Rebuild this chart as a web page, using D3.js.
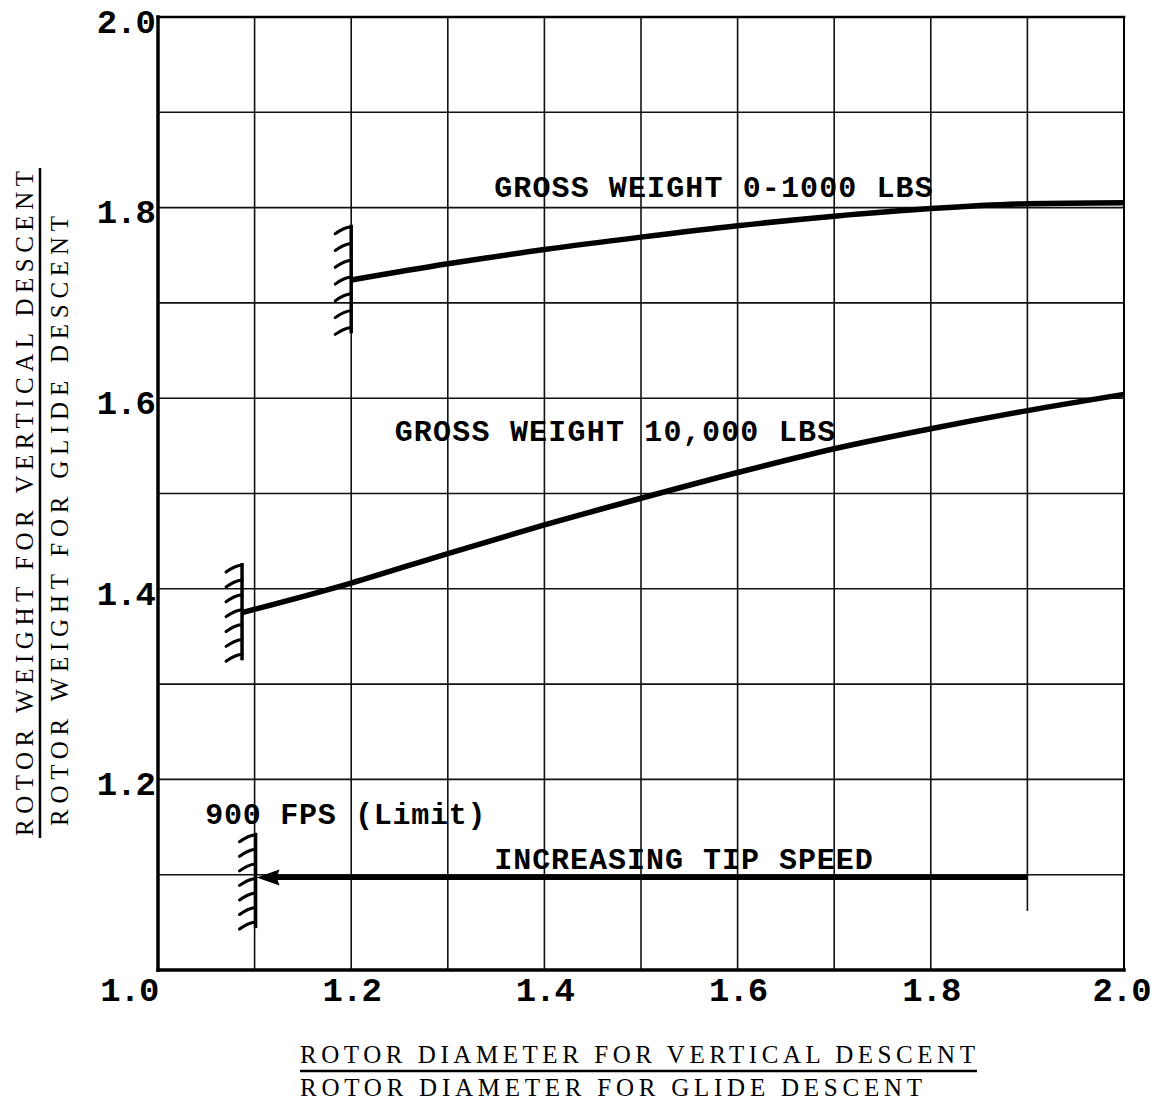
<!DOCTYPE html>
<html>
<head>
<meta charset="utf-8">
<script src="https://cdn.jsdelivr.net/npm/d3@7"></script>
<style>
  html, body { margin: 0; padding: 0; background: #fff; }
  svg { display: block; }
  .mono { font-family: "Liberation Mono", "DejaVu Sans Mono", monospace; }
  .type { font-family: "Liberation Serif", "DejaVu Serif", serif; }
</style>
</head>
<body>
<svg id="chart" width="1156" height="1103"></svg>
<script>
// Diameter ratio (vertical / glide descent) on x, weight ratio on y
const xTickValues = [1.0, 1.2, 1.4, 1.6, 1.8, 2.0];
const yTickValues = [1.2, 1.4, 1.6, 1.8, 2.0];
const gridStep = 0.1;

// Gross weight 0-1000 lbs
const lightX = [1.2, 1.3, 1.4, 1.5, 1.6, 1.7, 1.8, 1.9, 2.0];
const lightY = [1.724, 1.741, 1.756, 1.769, 1.781, 1.791, 1.799, 1.804, 1.805];

// Gross weight 10,000 lbs
const heavyX = [1.087, 1.2, 1.3, 1.4, 1.5, 1.6, 1.7, 1.8, 1.9, 2.0];
const heavyY = [1.375, 1.406, 1.437, 1.467, 1.495, 1.522, 1.547, 1.568, 1.587, 1.604];

// Limit walls: x, top, bottom
const limitX = [1.2, 1.087, 1.101];
const limitTop = [1.782, 1.427, 1.144];
const limitBottom = [1.668, 1.325, 1.044];

// Tip-speed arrow (points toward the 900 fps limit)
const arrowFrom = [1.9, 1.097];
const arrowTo = [1.101, 1.097];

// Annotations: text, anchor x, baseline y, span end x (data units)
const noteText = ["GROSS WEIGHT 0-1000 LBS", "GROSS WEIGHT 10,000 LBS", "900 FPS (Limit)", "INCREASING TIP SPEED"];
const noteX = [1.348, 1.245, 1.049, 1.348];
const noteY = [1.811, 1.555, 1.153, 1.106];
const noteEnd = [1.802, 1.701, 1.339, 1.74];

const xTitle = ["ROTOR DIAMETER FOR VERTICAL DESCENT", "ROTOR DIAMETER FOR GLIDE DESCENT"];
const yTitle = ["ROTOR WEIGHT FOR VERTICAL DESCENT", "ROTOR WEIGHT FOR GLIDE DESCENT"];

const svg = d3.select("#chart");
const x = d3.scaleLinear().domain([1, 2]).range([158, 1124]);
const y = d3.scaleLinear().domain([1, 2]).range([970, 17]);

// Grid
const gridVals = d3.range(1.1, 1.95, gridStep).map(v => +v.toFixed(1));
const grid = svg.append("g").attr("stroke", "#111").attr("stroke-width", 1.6);
grid.selectAll("line.v").data(gridVals).join("line")
  .attr("x1", d => x(d)).attr("x2", d => x(d))
  .attr("y1", y(2)).attr("y2", d => d === 1.9 ? y(1.062) : y(1));
grid.selectAll("line.h").data(gridVals).join("line")
  .attr("x1", x(1)).attr("x2", x(2))
  .attr("y1", d => y(d)).attr("y2", d => y(d));

// Frame
const frame = svg.append("g").attr("stroke", "#000").attr("stroke-linecap", "square");
frame.append("line").attr("x1", x(1)).attr("x2", x(1)).attr("y1", y(2)).attr("y2", y(1)).attr("stroke-width", 3.5);
frame.append("line").attr("x1", x(1)).attr("x2", x(2)).attr("y1", y(1)).attr("y2", y(1)).attr("stroke-width", 3.5);
frame.append("line").attr("x1", x(1)).attr("x2", x(2)).attr("y1", y(2)).attr("y2", y(2)).attr("stroke-width", 2.6);
frame.append("line").attr("x1", x(2)).attr("x2", x(2)).attr("y1", y(2)).attr("y2", y(1)).attr("stroke-width", 2);

// Axes tick labels
const xAxis = d3.axisBottom(x).tickValues(xTickValues).tickSize(0).tickPadding(0).tickFormat(d3.format(".1f"));
const gx = svg.append("g").attr("transform", `translate(0,${y(1)})`).call(xAxis);
gx.select(".domain").remove();
gx.selectAll("text")
  .attr("class", "mono")
  .attr("font-size", 34).attr("font-weight", "bold").attr("fill", "#000")
  .attr("letter-spacing", -1)
  .attr("dy", 31)
  .attr("text-anchor", d => d === 1.0 ? "end" : "middle")
  .attr("dx", d => d === 1.0 ? 0 : d === 2.0 ? -3 : 0);

const yAxis = d3.axisLeft(y).tickValues(yTickValues).tickSize(0).tickPadding(3).tickFormat(d3.format(".1f"));
const gy = svg.append("g").attr("transform", `translate(${x(1)},0)`).call(yAxis);
gy.select(".domain").remove();
gy.selectAll("text")
  .attr("class", "mono")
  .attr("font-size", 34).attr("font-weight", "bold").attr("fill", "#000")
  .attr("letter-spacing", -1)
  .attr("dy", "0.45em");

// Curves
const line = d3.line().x(d => x(d[0])).y(d => y(d[1])).curve(d3.curveMonotoneX);
[[lightX, lightY], [heavyX, heavyY]].forEach(([xs, ys]) => {
  svg.append("path")
    .datum(xs.map((v, i) => [v, ys[i]]))
    .attr("d", line)
    .attr("fill", "none").attr("stroke", "#000").attr("stroke-width", 5.5)
    .attr("stroke-linecap", "butt");
});

// Limit walls with hatching on the left side
limitX.forEach((lx, i) => {
  const g = svg.append("g").attr("stroke", "#000").attr("fill", "none");
  const px = x(lx), top = y(limitTop[i]), bot = y(limitBottom[i]);
  g.append("line").attr("x1", px).attr("x2", px).attr("y1", top).attr("y2", bot).attr("stroke-width", 3.5);
  const n = 7;
  const step = (bot - top - 8) / (n - 1);
  d3.range(n).forEach(k => {
    const ty = top + 2 + k * step;
    g.append("path")
      .attr("d", `M${px},${ty} Q${px - 8},${ty + 1} ${px - 16},${ty + 7}`)
      .attr("stroke-width", 3).attr("stroke-linecap", "round");
  });
});

// Arrow
const ax1 = x(arrowFrom[0]), ay = y(arrowFrom[1]), ax2 = x(arrowTo[0]);
svg.append("line").attr("x1", ax1).attr("x2", ax2 + 20).attr("y1", ay).attr("y2", ay)
  .attr("stroke", "#000").attr("stroke-width", 5);
svg.append("path")
  .attr("d", `M${ax2 + 1},${ay} L${ax2 + 24},${ay - 8} L${ax2 + 21},${ay} L${ax2 + 24},${ay + 8} Z`)
  .attr("fill", "#000");

// Annotations in typewriter pitch
noteText.forEach((t, i) => {
  svg.append("text").attr("class", "mono")
    .attr("x", x(noteX[i])).attr("y", y(noteY[i]))
    .attr("font-size", 30).attr("font-weight", "bold")
    .attr("textLength", x(noteEnd[i]) - x(noteX[i])).attr("lengthAdjust", "spacing")
    .attr("fill", "#000").text(t);
});

// X axis title (fraction)
const xt = svg.append("g").attr("class", "type").attr("font-size", 25).attr("fill", "#000");
xt.append("text").attr("x", 300).attr("y", 1063).attr("textLength", 675).attr("lengthAdjust", "spacing").text(xTitle[0]);
xt.append("line").attr("x1", 300).attr("x2", 977).attr("y1", 1071).attr("y2", 1071)
  .attr("stroke", "#000").attr("stroke-width", 2.5);
xt.append("text").attr("x", 300).attr("y", 1096).attr("textLength", 622).attr("lengthAdjust", "spacing").text(xTitle[1]);

// Y axis title (fraction, rotated)
const yt = svg.append("g").attr("class", "type").attr("font-size", 25).attr("fill", "#000");
yt.append("text").attr("transform", "translate(33,836) rotate(-90)")
  .attr("textLength", 665).attr("lengthAdjust", "spacing").text(yTitle[0]);
yt.append("line").attr("x1", 40).attr("x2", 40).attr("y1", 168).attr("y2", 838)
  .attr("stroke", "#000").attr("stroke-width", 2.5);
yt.append("text").attr("transform", "translate(68,826) rotate(-90)")
  .attr("textLength", 610).attr("lengthAdjust", "spacing").text(yTitle[1]);
</script>
</body>
</html>
